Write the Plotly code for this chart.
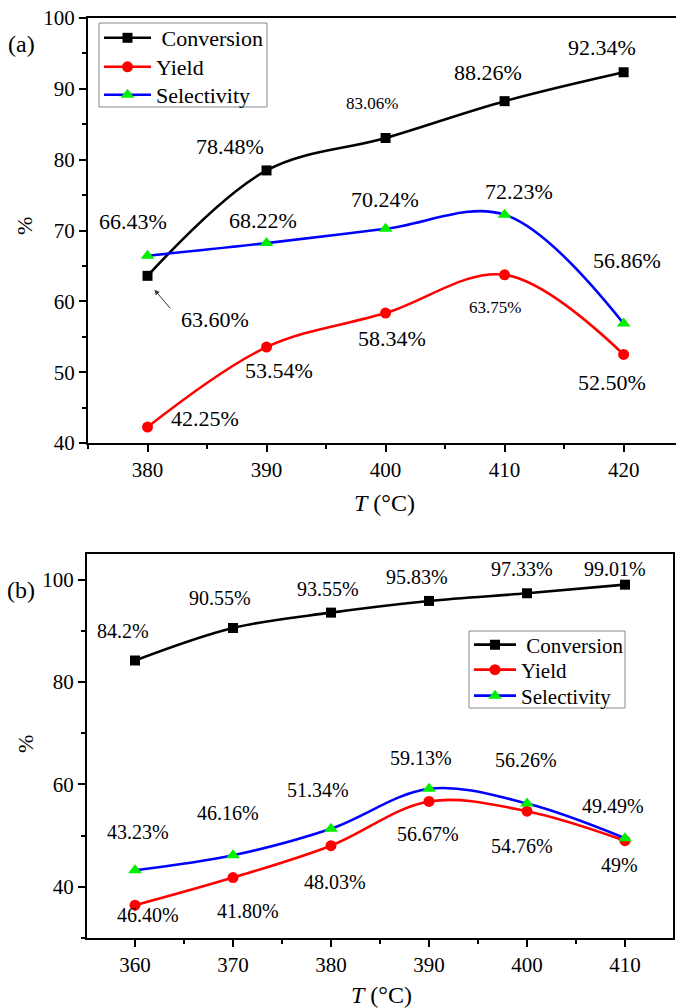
import plotly.graph_objects as go

FONT = "Liberation Serif, Times New Roman, DejaVu Serif, serif"
W, H = 676, 1008

# ---------------- data ----------------
temp_a = [380, 390, 400, 410, 420]
conv_a = [63.60, 78.48, 83.06, 88.26, 92.34]
yield_a = [42.25, 53.54, 58.34, 63.75, 52.50]
sel_a = [66.43, 68.22, 70.24, 72.23, 56.86]
conv_a_lbl = ["63.60%", "78.48%", "83.06%", "88.26%", "92.34%"]
yield_a_lbl = ["42.25%", "53.54%", "58.34%", "63.75%", "52.50%"]
sel_a_lbl = ["66.43%", "68.22%", "70.24%", "72.23%", "56.86%"]

temp_b = [360, 370, 380, 390, 400, 410]
conv_b = [84.2, 90.55, 93.55, 95.83, 97.33, 99.01]
yield_b = [36.40, 41.80, 48.03, 56.67, 54.76, 49.0]
sel_b = [43.23, 46.16, 51.34, 59.13, 56.26, 49.49]
conv_b_lbl = ["84.2%", "90.55%", "93.55%", "95.83%", "97.33%", "99.01%"]
yield_b_lbl = ["46.40%", "41.80%", "48.03%", "56.67%", "54.76%", "49%"]
sel_b_lbl = ["43.23%", "46.16%", "51.34%", "59.13%", "56.26%", "49.49%"]

series_names = ["Conversion", "Yield", "Selectivity"]

# ---------------- styling / layout helpers ----------------
line_colors = ["#000000", "#ff0000", "#0000ff"]
marker_colors = ["#000000", "#ff0000", "#00ee00"]
symbols = ["square", "circle", "triangle-up"]
msizes = [10, 11, 12]

def px_x(p):
    return p / W

def px_y(p):
    return 1 - p / H

fig = go.Figure()

def add_series(xs, ys_list, xa, ya, legends):
    for i, ys in enumerate(ys_list):
        fig.add_trace(go.Scatter(
            x=xs, y=ys, mode="lines+markers",
            name=("&nbsp;" + series_names[i]) if i == 0 else series_names[i],
            line=dict(color=line_colors[i], width=2.6, shape="spline", smoothing=1.0),
            marker=dict(symbol=symbols[i], size=msizes[i], color=marker_colors[i],
                        line=dict(width=0)),
            xaxis=xa, yaxis=ya, legend=legends[i],
        ))

add_series(temp_a, [conv_a, yield_a, sel_a], "x", "y", ["legend", "legend2", "legend3"])
add_series(temp_b, [conv_b, yield_b, sel_b], "x2", "y2", ["legend4", "legend5", "legend6"])

axis_common = dict(showline=True, linecolor="black", linewidth=2, ticks="outside",
                   tickcolor="black", tickwidth=2, ticklen=7, showgrid=False,
                   zeroline=False, automargin=False,
                   tickfont=dict(family=FONT, size=21, color="black"))
minor_common = dict(ticklen=4, ticks="outside", tickcolor="black", tickwidth=2, showgrid=False)

def leg(x, y, size, iw):
    return dict(x=px_x(x), y=px_y(y), xanchor="left", yanchor="middle",
                borderwidth=0, bgcolor="rgba(0,0,0,0)",
                font=dict(family=FONT, size=size, color="black"), itemwidth=iw)

fig.update_layout(
    template="none",
    width=W, height=H, margin=dict(l=0, r=0, t=0, b=0, autoexpand=False),
    plot_bgcolor="white", paper_bgcolor="white",
    font=dict(family=FONT, color="black"),
    xaxis=dict(domain=[px_x(88), px_x(676)], range=[375, 424.4], dtick=10, tick0=380,
               mirror=True, anchor="y", minor=dict(dtick=5, **minor_common), **axis_common),
    yaxis=dict(domain=[px_y(443), px_y(18)], range=[40, 100], dtick=10, anchor="x",
               minor=dict(dtick=5, **minor_common), **axis_common),
    xaxis2=dict(domain=[px_x(87), px_x(673)], range=[355.1, 414.9], dtick=10, tick0=360,
                mirror=True, anchor="y2", minor=dict(dtick=5, **minor_common), **axis_common),
    yaxis2=dict(domain=[px_y(938), px_y(554)], range=[30, 105], dtick=20, tick0=0,
                mirror=True, anchor="x2", minor=dict(dtick=10, **minor_common), **axis_common),
    legend=leg(99, 38, 22, 47),
    legend2=leg(99, 67, 22, 47),
    legend3=leg(99, 95, 22, 47),
    legend4=leg(469, 645, 21, 42),
    legend5=leg(469, 670, 21, 42),
    legend6=leg(469, 696, 21, 42),
    showlegend=True,
)

# legend frames
fig.add_shape(type="rect", xref="paper", yref="paper",
              x0=px_x(99), x1=px_x(267), y0=px_y(107), y1=px_y(23),
              line=dict(color="#888888", width=1))
fig.add_shape(type="rect", xref="paper", yref="paper",
              x0=px_x(469), x1=px_x(625), y0=px_y(708), y1=px_y(631),
              line=dict(color="#888888", width=1))

# ---------------- value labels ----------------
def label(xs, ys, texts, shifts, xa, ya, sizes):
    for x, y, t, (dx, dy), s in zip(xs, ys, texts, shifts, sizes):
        fig.add_annotation(x=x, y=y, xref=xa, yref=ya, text=t, showarrow=False,
                           xshift=dx, yshift=-dy,
                           font=dict(family=FONT, size=s, color="black"))

# panel (a) pixel offsets (dx right, dy down)
conv_a_off = [(-37, -24), (-14, -34), (-17, -29), (-22, -25)]
sel_a_off = [(-15, -34), (-4, -23), (-1, -29), (14, -23), (3, -63)]
yield_a_off = [(57, -9), (12, 23), (6, 25), (-10, 33), (-12, 28)]

label(temp_a[1:], conv_a[1:], conv_a_lbl[1:], conv_a_off, "x", "y", [22, 17, 22, 22])
label(temp_a, sel_a, sel_a_lbl, sel_a_off, "x", "y", [22] * 5)
label(temp_a, yield_a, yield_a_lbl, yield_a_off, "x", "y", [22, 22, 22, 17, 22])

# 63.60% label with arrow
fig.add_annotation(x=temp_a[0], y=conv_a[0], xref="x", yref="y", text=conv_a_lbl[0],
                   showarrow=False, xshift=67, yshift=-44,
                   font=dict(family=FONT, size=22, color="black"))
fig.add_annotation(x=temp_a[0], y=conv_a[0], xref="x", yref="y", text="",
                   showarrow=True, arrowhead=2, arrowsize=1, arrowwidth=1,
                   arrowcolor="#333333", ax=17, ay=20, xshift=7, yshift=-14)

# panel (b)
conv_b_off = [(-12, -30), (-13, -30), (-3, -24), (-12, -24), (-5, -24), (-10, -16)]
sel_b_off = [(3, -38), (-5, -42), (-13, -39), (-8, -31), (-1, -44), (-12, -32)]
yield_b_off = [(13, 10), (15, 33), (4, 36), (-1, 33), (-5, 35), (-5, 24)]
label(temp_b, conv_b, conv_b_lbl, conv_b_off, "x2", "y2", [20] * 6)
label(temp_b, sel_b, sel_b_lbl, sel_b_off, "x2", "y2", [20] * 6)
label(temp_b, yield_b, yield_b_lbl, yield_b_off, "x2", "y2", [20] * 6)

# ---------------- titles / panel letters ----------------
def paper_text(x, y, t, size, angle=0):
    fig.add_annotation(x=px_x(x), y=px_y(y), xref="paper", yref="paper", text=t,
                       showarrow=False, textangle=angle, xanchor="center", yanchor="middle",
                       font=dict(family=FONT, size=size, color="black"))

paper_text(21, 44, "(a)", 24)
paper_text(21, 590, "(b)", 24)
paper_text(25, 226, "%", 22, -90)
paper_text(25, 744, "%", 22, -90)
paper_text(384, 503, "<i>T</i> (°C)", 24)
paper_text(381, 995, "<i>T</i> (°C)", 24)

fig.write_html("out.html", config={"displayModeBar": False},
               post_script="document.body.style.margin='0px';document.body.style.padding='0px';")
